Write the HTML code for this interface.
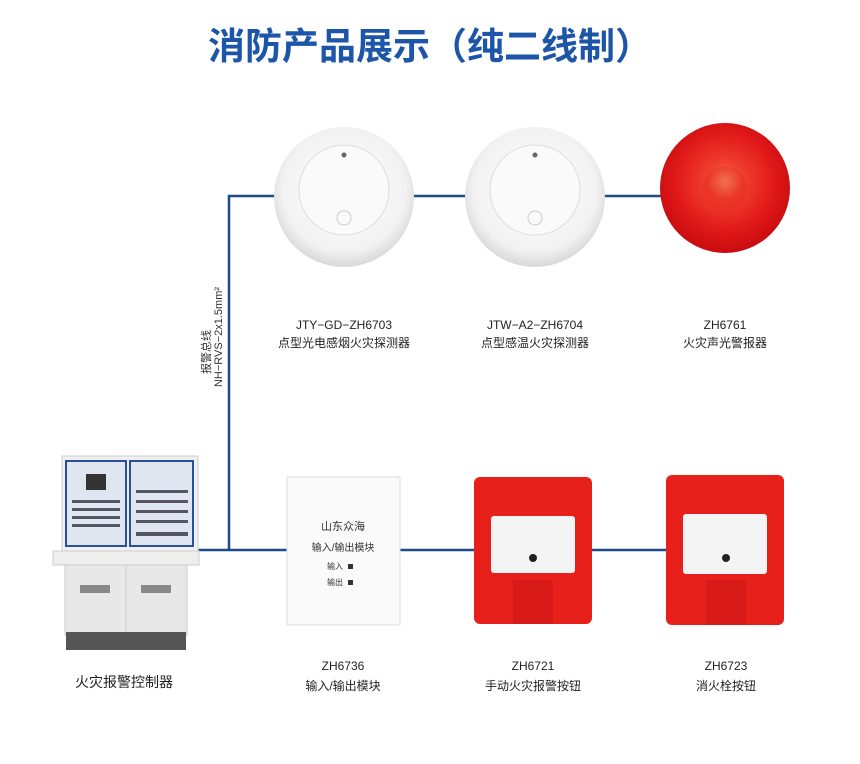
<!DOCTYPE html>
<html><head><meta charset="utf-8"><style>
html,body{margin:0;padding:0;background:#fff;}
svg{display:block}
text{font-family:"Liberation Sans","Noto Sans CJK SC",sans-serif;}
</style></head><body>
<svg width="860" height="764" viewBox="0 0 860 764" xmlns="http://www.w3.org/2000/svg">
<defs>
<radialGradient id="wg" cx="50%" cy="45%" r="55%"><stop offset="0" stop-color="#ffffff"/><stop offset="0.8" stop-color="#f2f2f2"/><stop offset="1" stop-color="#d8d8d8"/></radialGradient>
<radialGradient id="rg" cx="50%" cy="45%" r="55%"><stop offset="0" stop-color="#ffd0a0"/><stop offset="0.25" stop-color="#f04030"/><stop offset="0.7" stop-color="#e01818"/><stop offset="1" stop-color="#c80c10"/></radialGradient>
</defs>
<text x="430" y="59" text-anchor="middle" font-size="37" font-weight="bold" fill="#1d56a8">消防产品展示（纯二线制）</text>

<g stroke="#1f4a8a" stroke-width="2.5" fill="none">
<polyline points="229,550 229,196 280,196"/>
<line x1="410" y1="196" x2="470" y2="196"/>
<line x1="600" y1="196" x2="662" y2="196"/>
<line x1="198" y1="550" x2="288" y2="550"/>
<line x1="398" y1="550" x2="474" y2="550"/>
<line x1="592" y1="550" x2="666" y2="550"/>
</g>
<text transform="translate(210,352) rotate(-90)" text-anchor="middle" font-size="11" fill="#333">报警总线</text>
<text transform="translate(222,337) rotate(-90)" text-anchor="middle" font-size="11" fill="#333">NH−RVS−2x1.5mm²</text>

<g>
<circle cx="344" cy="197" r="70" fill="url(#wg)"/>
<circle cx="344" cy="190" r="45" fill="#fafafa" stroke="#ddd"/>
<circle cx="344" cy="155" r="2.5" fill="#666"/>
<circle cx="344" cy="218" r="7" fill="none" stroke="#ccc"/>
<circle cx="535" cy="197" r="70" fill="url(#wg)"/>
<circle cx="535" cy="190" r="45" fill="#fafafa" stroke="#ddd"/>
<circle cx="535" cy="155" r="2.5" fill="#666"/>
<circle cx="535" cy="218" r="7" fill="none" stroke="#ccc"/>
<circle cx="725" cy="188" r="65" fill="url(#rg)"/>
<circle cx="725" cy="188" r="22" fill="#e83020" opacity="0.6"/>
</g>
<g font-size="12" fill="#222" text-anchor="middle">
<text x="344" y="329">JTY−GD−ZH6703</text><text x="344" y="347">点型光电感烟火灾探测器</text>
<text x="535" y="329">JTW−A2−ZH6704</text><text x="535" y="347">点型感温火灾探测器</text>
<text x="725" y="329">ZH6761</text><text x="725" y="347">火灾声光警报器</text>
</g>

<g>
<rect x="62" y="456" width="136" height="95" fill="#f0f0f0" stroke="#ccc"/>
<rect x="66" y="461" width="60" height="85" fill="#dfe6f0" stroke="#2a4fa0" stroke-width="2"/>
<rect x="130" y="461" width="63" height="85" fill="#dfe6f0" stroke="#2a4fa0" stroke-width="2"/>
<rect x="86" y="474" width="20" height="16" fill="#333"/>
<g fill="#556">
<rect x="72" y="500" width="48" height="3"/><rect x="72" y="508" width="48" height="3"/><rect x="72" y="516" width="48" height="3"/><rect x="72" y="524" width="48" height="3"/>
<rect x="136" y="490" width="52" height="3"/><rect x="136" y="500" width="52" height="3"/><rect x="136" y="510" width="52" height="3"/><rect x="136" y="520" width="52" height="3"/><rect x="136" y="532" width="52" height="4"/>
</g>
<rect x="53" y="551" width="146" height="14" fill="#eee" stroke="#ccc"/>
<rect x="65" y="565" width="122" height="70" fill="#e8e8e8" stroke="#ccc"/>
<line x1="126" y1="565" x2="126" y2="632" stroke="#ccc"/>
<g fill="#888"><rect x="80" y="585" width="30" height="8"/><rect x="141" y="585" width="30" height="8"/></g>
<rect x="66" y="632" width="120" height="18" fill="#555"/>
</g>
<rect x="287" y="477" width="113" height="148" fill="#fafafa" stroke="#ddd"/>
<text x="343" y="530" font-size="11" text-anchor="middle" fill="#333">山东众海</text>
<text x="343" y="551" font-size="10" text-anchor="middle" fill="#333">输入/输出模块</text>
<text x="335" y="569" font-size="8" text-anchor="middle" fill="#333">输入</text><rect x="348" y="564" width="5" height="5" fill="#333"/>
<text x="335" y="585" font-size="8" text-anchor="middle" fill="#333">输出</text><rect x="348" y="580" width="5" height="5" fill="#333"/>

<rect x="474" y="477" width="118" height="147" rx="6" fill="#e8201c"/>
<rect x="491" y="516" width="84" height="57" rx="3" fill="#f4f4f4"/>
<circle cx="533" cy="558" r="4" fill="#222"/>
<rect x="513" y="580" width="40" height="44" fill="#d81a18"/>
<rect x="666" y="475" width="118" height="150" rx="6" fill="#e8201c"/>
<rect x="683" y="514" width="84" height="60" rx="3" fill="#f4f4f4"/>
<circle cx="726" cy="558" r="4" fill="#222"/>
<rect x="706" y="580" width="40" height="45" fill="#d81a18"/>

<g font-size="12" fill="#222" text-anchor="middle">
<text x="124" y="687" font-size="14">火灾报警控制器</text>
<text x="343" y="670">ZH6736</text><text x="343" y="690">输入/输出模块</text>
<text x="533" y="670">ZH6721</text><text x="533" y="690">手动火灾报警按钮</text>
<text x="726" y="670">ZH6723</text><text x="726" y="690">消火栓按钮</text>
</g>
</svg>
</body></html>
